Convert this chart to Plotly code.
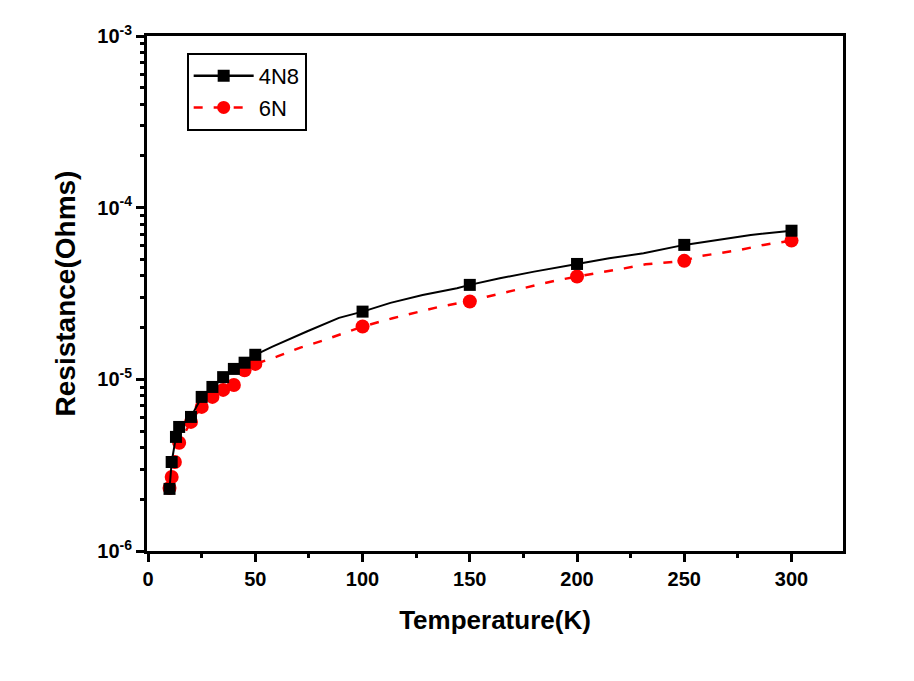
import plotly.graph_objects as go

# ---- data ----
t_4n8 = [10, 11, 13, 14.5, 20, 25, 30, 35, 40, 45, 50, 58, 74, 89, 100, 113, 128, 144, 150,
         164, 180, 192, 200, 215, 231, 250, 265, 281, 300]
r_4n8 = [2.30e-6, 3.30e-6, 4.62e-6, 5.28e-6, 6.04e-6, 7.90e-6, 9.03e-6, 1.03e-5, 1.15e-5,
         1.25e-5, 1.39e-5, 1.55e-5, 1.90e-5, 2.28e-5, 2.48e-5, 2.79e-5, 3.10e-5, 3.39e-5,
         3.55e-5, 3.88e-5, 4.24e-5, 4.53e-5, 4.70e-5, 5.07e-5, 5.42e-5, 6.07e-5, 6.48e-5,
         6.93e-5, 7.34e-5]
mark_t_4n8 = [10, 11, 13, 14.5, 20, 25, 30, 35, 40, 45, 50, 100, 150, 200, 250, 300]

t_6n = [10, 11, 12.5, 14.5, 20, 25, 30, 35, 40, 45, 50, 60, 71, 82, 92, 100, 114, 125, 135,
        146, 150, 158, 169, 179, 190, 200, 211, 222, 232, 250, 256, 276, 287, 300]
r_6n = [2.33e-6, 2.70e-6, 3.30e-6, 4.27e-6, 5.65e-6, 6.91e-6, 7.90e-6, 8.68e-6, 9.27e-6,
        1.13e-5, 1.23e-5, 1.355e-5, 1.53e-5, 1.69e-5, 1.88e-5, 2.03e-5, 2.27e-5, 2.46e-5,
        2.63e-5, 2.80e-5, 2.84e-5, 3.03e-5, 3.27e-5, 3.51e-5, 3.76e-5, 3.97e-5, 4.18e-5,
        4.43e-5, 4.68e-5, 4.90e-5, 5.19e-5, 5.67e-5, 6.07e-5, 6.43e-5]
mark_t_6n = [10, 11, 12.5, 14.5, 20, 25, 30, 35, 40, 45, 50, 100, 150, 200, 250, 300]

x_ticks = [0, 50, 100, 150, 200, 250, 300]
y_tickvals = [1e-6, 1e-5, 1e-4, 1e-3]
y_ticktext = ["10<sup>-6</sup>", "10<sup>-5</sup>", "10<sup>-4</sup>", "10<sup>-3</sup>"]
y_minor_digits = [2, 3, 4, 5, 6, 7, 8, 9]
y_decades = [1e-6, 1e-5, 1e-4]

def pick(ts, rs, sel):
    d = dict(zip(ts, rs))
    return sel, [d[t] for t in sel]

mx1, my1 = pick(t_4n8, r_4n8, mark_t_4n8)
mx2, my2 = pick(t_6n, r_6n, mark_t_6n)
y_minor_vals = [d * k for d in y_decades for k in y_minor_digits]

FONT = "Liberation Sans, Arial, sans-serif"
BLACK = "#000000"
RED = "#ff0000"

fig = go.Figure()
# 6N line + markers
fig.add_trace(go.Scatter(x=t_6n, y=r_6n, mode="lines",
                         line=dict(color=RED, width=2.5, dash="9px,11px"),
                         showlegend=False, hoverinfo="skip"))
fig.add_trace(go.Scatter(x=mx2, y=my2, mode="markers",
                         marker=dict(symbol="circle", size=14, color=RED),
                         showlegend=False))
# 4N8 line + markers
fig.add_trace(go.Scatter(x=t_4n8, y=r_4n8, mode="lines",
                         line=dict(color=BLACK, width=2),
                         showlegend=False, hoverinfo="skip"))
fig.add_trace(go.Scatter(x=mx1, y=my1, mode="markers",
                         marker=dict(symbol="square", size=12, color=BLACK),
                         showlegend=False))
# legend entries
fig.add_trace(go.Scatter(x=[None], y=[None], mode="lines+markers", name="4N8",
                         line=dict(color=BLACK, width=2.5),
                         marker=dict(symbol="square", size=12, color=BLACK)))
fig.add_trace(go.Scatter(x=[None], y=[None], mode="lines+markers", name="6N",
                         line=dict(color=RED, width=2.5, dash="9px,11px"),
                         marker=dict(symbol="circle", size=13, color=RED)))

axis_common = dict(showline=True, linecolor=BLACK, linewidth=3, mirror=True,
                   ticks="outside", tickcolor=BLACK, tickwidth=3, ticklen=8,
                   showgrid=False, zeroline=False,
                   tickfont=dict(family=FONT, size=20, color=BLACK, weight="bold"))

fig.update_xaxes(range=[-0.5, 324], tickvals=x_ticks,
                 minor=dict(ticks="outside", dtick=25, tick0=0, ticklen=4,
                            tickwidth=3, tickcolor=BLACK, showgrid=False),
                 title=dict(text="Temperature(K)", standoff=22,
                            font=dict(family=FONT, size=26, color=BLACK, weight="bold")),
                 **axis_common)
fig.update_yaxes(type="log", range=[-6, -3], tickvals=y_tickvals, ticktext=y_ticktext,
                 minor=dict(ticks="outside", tickmode="array", tickvals=y_minor_vals,
                            ticklen=4, tickwidth=3, tickcolor=BLACK, showgrid=False),
                 title=dict(text="Resistance(Ohms)", standoff=14,
                            font=dict(family=FONT, size=28, color=BLACK, weight="bold")),
                 **axis_common)

fig.update_layout(
    width=914, height=681,
    margin=dict(l=139, r=79, t=28, b=138),
    paper_bgcolor="white", plot_bgcolor="white",
    legend=dict(x=0.057, y=0.967, xanchor="left", yanchor="top",
                bordercolor=BLACK, borderwidth=2, bgcolor="white",
                font=dict(family=FONT, size=22, color=BLACK),
                itemwidth=60, tracegroupgap=0),
)

fig.write_html("out.html")
